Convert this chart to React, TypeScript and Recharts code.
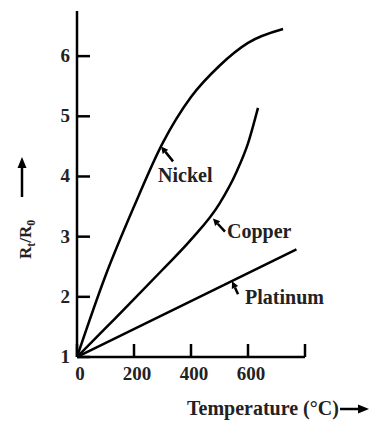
import { LineChart, Line, XAxis, YAxis, ReferenceDot } from 'recharts';

// temperature (°C) and resistance ratio Rt/R0
const nickelT = [0, 100, 200, 300, 400, 500, 600, 723];
const nickelR = [1, 2.35, 3.5, 4.55, 5.32, 5.84, 6.22, 6.45];
const copperT = [0, 100, 200, 300, 400, 500, 560, 600, 635];
const copperR = [1, 1.48, 1.96, 2.45, 2.95, 3.55, 4.08, 4.55, 5.14];
const platinumT = [0, 400, 770];
const platinumR = [1, 1.93, 2.79];

const xTicks = [0, 200, 400, 600, 800];
const xTickLabels = ['0', '200', '400', '600', ''];
const yTicks = [1, 2, 3, 4, 5, 6];

// where each label's arrow touches its curve
const curveLabels = [
  { name: 'Nickel', t: 295, r: 4.5, tail: [12, 15], text: [-3, 36] },
  { name: 'Copper', t: 477, r: 3.3, tail: [12, 13], text: [14, 19] },
  { name: 'Platinum', t: 544, r: 2.26, tail: [6, 13], text: [13, 23] },
];

const toRows = (ts: number[], rs: number[]) => ts.map((t, i) => ({ t, r: rs[i] }));

const FONT = '"Liberation Serif", "Times New Roman", serif';

const XTick = (props: any) => {
  const { x, y, index } = props;
  return (
    <g>
      <line x1={x} y1={y} x2={x} y2={y - 13} stroke="#000" strokeWidth={2.5} />
      <text x={x + 3} y={y + 23} textAnchor="middle" fontFamily={FONT} fontWeight="bold" fontSize={19} fill="#222">
        {xTickLabels[index]}
      </text>
    </g>
  );
};

const YTick = (props: any) => {
  const { x, y, payload } = props;
  return (
    <g>
      <line x1={x} y1={y} x2={x + 13} y2={y} stroke="#000" strokeWidth={2.5} />
      <text x={x - 7} y={y + 6} textAnchor="end" fontFamily={FONT} fontWeight="bold" fontSize={19} fill="#222">
        {payload.value}
      </text>
    </g>
  );
};

const ArrowLabel = (name: string, tail: number[], text: number[]) => (props: any) => {
  const { cx, cy } = props;
  const tx = cx + tail[0];
  const ty = cy + tail[1];
  const ang = Math.atan2(cy - ty, cx - tx);
  const hl = 7;
  const hw = 3.5;
  const bx = cx - hl * Math.cos(ang);
  const by = cy - hl * Math.sin(ang);
  const px = -Math.sin(ang) * hw;
  const py = Math.cos(ang) * hw;
  return (
    <g>
      <line x1={tx} y1={ty} x2={bx} y2={by} stroke="#000" strokeWidth={2.5} />
      <polygon points={`${cx},${cy} ${bx + px},${by + py} ${bx - px},${by - py}`} fill="#000" />
      <text x={cx + text[0]} y={cy + text[1]} fontFamily={FONT} fontWeight="bold" fontSize={20} fill="#222">
        {name}
      </text>
    </g>
  );
};

export default function App() {
  return (
    <div style={{ position: 'absolute', left: 0, top: 0, background: '#fff' }}>
      <LineChart width={370} height={422} margin={{ top: 11, right: 65, bottom: 0, left: 0 }}>
        <XAxis
          type="number"
          dataKey="t"
          domain={[0, 800]}
          ticks={xTicks}
          interval={0}
          height={65}
          tickSize={0}
          tickMargin={0}
          tickLine={false}
          axisLine={{ stroke: '#000', strokeWidth: 2.5 }}
          tick={<XTick />}
          allowDataOverflow
        />
        <YAxis
          type="number"
          dataKey="r"
          domain={[1, 6.75]}
          ticks={yTicks}
          interval={0}
          width={77}
          tickSize={0}
          tickMargin={0}
          tickLine={false}
          axisLine={{ stroke: '#000', strokeWidth: 2.5 }}
          tick={<YTick />}
          allowDataOverflow
        />
        <Line data={toRows(nickelT, nickelR)} dataKey="r" type="monotone" stroke="#000" strokeWidth={2.5} dot={false} isAnimationActive={false} />
        <Line data={toRows(copperT, copperR)} dataKey="r" type="monotone" stroke="#000" strokeWidth={2.5} dot={false} isAnimationActive={false} />
        <Line data={toRows(platinumT, platinumR)} dataKey="r" type="monotone" stroke="#000" strokeWidth={2.5} dot={false} isAnimationActive={false} />
        {curveLabels.map((c) => (
          <ReferenceDot key={c.name} x={c.t} y={c.r} r={0} shape={ArrowLabel(c.name, c.tail, c.text)} />
        ))}
      </LineChart>
      <svg width={370} height={422} style={{ position: 'absolute', left: 0, top: 0, pointerEvents: 'none' }}>
        <g transform="translate(31,259) rotate(-90)">
          <text x={0} y={0} fontFamily={FONT} fontWeight="bold" fontSize={17} fill="#222">
            R<tspan fontSize={12} dy={4}>t</tspan>
            <tspan dy={-4}>/R</tspan>
            <tspan fontSize={12} dy={4}>0</tspan>
          </text>
        </g>
        <line x1={22} y1={197} x2={22} y2={166} stroke="#000" strokeWidth={2.5} />
        <polygon points="22,157 17.5,168 26.5,168" fill="#000" />
        <text x={187} y={415} fontFamily={FONT} fontWeight="bold" fontSize={20} fill="#222">
          Temperature (°C)
        </text>
        <line x1={340} y1={409} x2={360} y2={409} stroke="#000" strokeWidth={2.5} />
        <polygon points="369,409 358,404.5 358,413.5" fill="#000" />
      </svg>
    </div>
  );
}
